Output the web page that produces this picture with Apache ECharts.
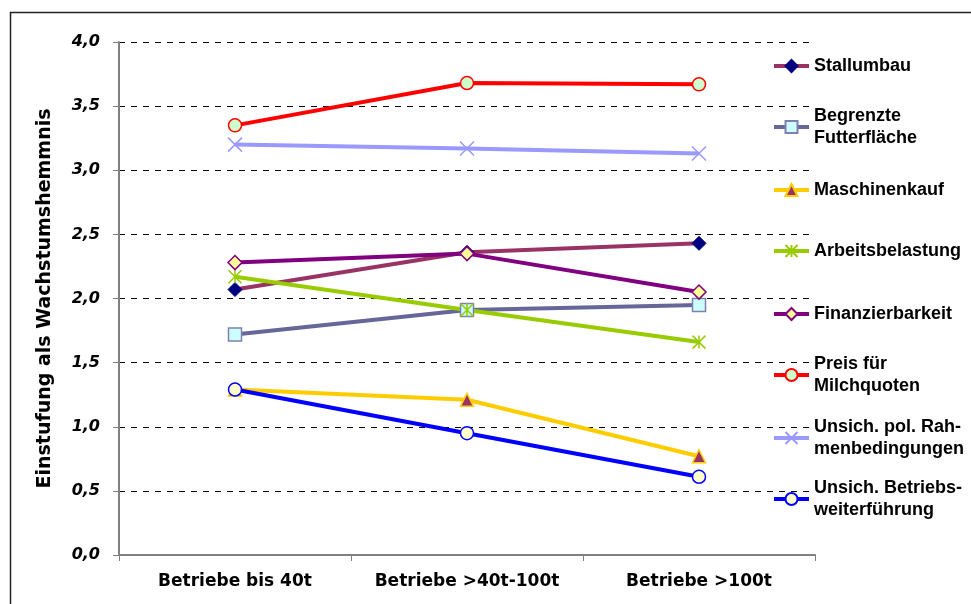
<!DOCTYPE html>
<html>
<head>
<meta charset="utf-8">
<script src="https://cdn.jsdelivr.net/npm/echarts@6/dist/echarts.min.js"></script>
<style>
  html, body { margin: 0; padding: 0; background: #fff; }
  #chart { width: 971px; height: 604px; }
</style>
</head>
<body>
<div id="chart"></div>
<script>
// Betriebsgrößenklassen (x-Achse)
const categories = ['Betriebe bis 40t', 'Betriebe >40t-100t', 'Betriebe >100t'];

// Mittlere Einstufung je Hemmnis
const stallumbau = [2.07, 2.36, 2.43];
const begrenzteFutterflaeche = [1.72, 1.91, 1.95];
const maschinenkauf = [1.29, 1.21, 0.77];
const arbeitsbelastung = [2.17, 1.91, 1.66];
const finanzierbarkeit = [2.28, 2.35, 2.05];
const preisMilchquoten = [3.35, 3.68, 3.67];
const unsichRahmenbedingungen = [3.20, 3.17, 3.13];
const unsichWeiterfuehrung = [1.29, 0.95, 0.61];

// Achsenbereich der Einstufung
const yMin = 0;
const yMax = 4;
const yStep = 0.5;

const seriesNames = [
  'Stallumbau',
  'Begrenzte Futterfläche',
  'Maschinenkauf',
  'Arbeitsbelastung',
  'Finanzierbarkeit',
  'Preis für Milchquoten',
  'Unsich. pol. Rahmenbedingungen',
  'Unsich. Betriebsweiterführung'
];
const legendLabels = [
  'Stallumbau',
  'Begrenzte\nFutterfläche',
  'Maschinenkauf',
  'Arbeitsbelastung',
  'Finanzierbarkeit',
  'Preis für\nMilchquoten',
  'Unsich. pol. Rah-\nmenbedingungen',
  'Unsich. Betriebs-\nweiterführung'
];
const seriesValues = [
  stallumbau, begrenzteFutterflaeche, maschinenkauf, arbeitsbelastung,
  finanzierbarkeit, preisMilchquoten, unsichRahmenbedingungen, unsichWeiterfuehrung
];

const CROSS = 'path://M0,0L10,10M10,0L0,10';
const STAR = 'path://M0,0L10,10M10,0L0,10M5,0L5,10';

// line colour, marker, marker fill, marker border, size
const looks = [
  { line: '#993366', symbol: 'diamond', fill: '#000080', border: '#000080', bw: 1, size: 14 },
  { line: '#666699', symbol: 'rect', fill: '#CCFFFF', border: '#8080B0', bw: 1.5, size: 13 },
  { line: '#FFCC00', symbol: 'triangle', fill: '#993366', border: '#FFCC00', bw: 1.5, size: 13 },
  { line: '#99CC00', symbol: STAR, fill: 'rgba(0,0,0,0)', border: '#99CC00', bw: 1.5, size: 13 },
  { line: '#800080', symbol: 'diamond', fill: '#FFFF99', border: '#800080', bw: 1.5, size: 14 },
  { line: '#FF0000', symbol: 'circle', fill: '#CCFFCC', border: '#FF0000', bw: 1.5, size: 13 },
  { line: '#9999FF', symbol: CROSS, fill: 'rgba(0,0,0,0)', border: '#9999FF', bw: 1.5, size: 14 },
  { line: '#0000FF', symbol: 'circle', fill: '#FFFFCC', border: '#0000FF', bw: 1.5, size: 13 }
];

// vertical centre of each legend marker
const legendCenters = [66, 127, 190, 251, 314, 375, 438, 499];

const series = seriesNames.map((name, i) => ({
  name,
  type: 'line',
  data: seriesValues[i],
  symbol: looks[i].symbol,
  symbolSize: looks[i].size,
  showAllSymbol: true,
  lineStyle: { color: looks[i].line, width: 4 },
  itemStyle: { color: looks[i].fill, borderColor: looks[i].border, borderWidth: looks[i].bw },
  emphasis: { disabled: true },
  animation: false
}));

const legends = seriesNames.map((name, i) => {
  const twoLine = legendLabels[i].indexOf('\n') >= 0;
  return {
    data: [name],
    left: 772,
    top: legendCenters[i] - (twoLine ? 33 : 11),
    orient: 'vertical',
    padding: 0,
    itemWidth: 35,
    itemHeight: 15,
    itemGap: 5,
    selectedMode: false,
    lineStyle: { width: 4, color: looks[i].line },
    formatter: () => legendLabels[i],
    textStyle: {
      fontFamily: '"Liberation Sans", Arial, sans-serif',
      fontWeight: 'bold',
      fontSize: 18,
      lineHeight: 22,
      color: '#000',
      padding: twoLine ? [22, 0, 0, 0] : 0
    }
  };
});

const chart = echarts.init(document.getElementById('chart'), null, { renderer: 'canvas' });
chart.setOption({
  backgroundColor: '#fff',
  animation: false,
  graphic: [{
    type: 'rect',
    shape: { x: 10.5, y: 12.5, width: 1000, height: 700 },
    style: { fill: 'none', stroke: '#222', lineWidth: 1.5 },
    silent: true,
    z: 0
  }],
  grid: { left: 119, right: 156, top: 42, bottom: 49, containLabel: false },
  legend: legends,
  xAxis: {
    type: 'category',
    data: categories,
    boundaryGap: true,
    axisLine: { lineStyle: { color: '#808080', width: 2 } },
    axisTick: { show: true, length: 6, alignWithLabel: false, lineStyle: { color: '#808080', width: 1 } },
    axisLabel: {
      interval: 0,
      hideOverlap: false,
      margin: 18,
      color: '#000',
      fontFamily: '"DejaVu Sans", sans-serif',
      fontWeight: 'bold',
      fontSize: 17
    },
    splitLine: { show: false }
  },
  yAxis: {
    type: 'value',
    min: yMin,
    max: yMax,
    interval: yStep,
    name: 'Einstufung als Wachstumshemmnis',
    nameLocation: 'middle',
    nameGap: 64,
    nameTextStyle: {
      fontFamily: '"DejaVu Sans", sans-serif',
      fontWeight: 'bold',
      fontSize: 19,
      color: '#000'
    },
    axisLine: { show: true, lineStyle: { color: '#808080', width: 2 } },
    axisTick: { show: true, length: 6, lineStyle: { color: '#808080', width: 1 } },
    axisLabel: {
      margin: 19,
      color: '#000',
      fontFamily: '"DejaVu Sans", sans-serif',
      fontWeight: 'bold',
      fontStyle: 'italic',
      fontSize: 16,
      formatter: v => v.toFixed(1).replace('.', ',')
    },
    splitLine: { show: true, lineStyle: { color: '#000', width: 1, type: [6, 6] } }
  },
  series
});
</script>
</body>
</html>
